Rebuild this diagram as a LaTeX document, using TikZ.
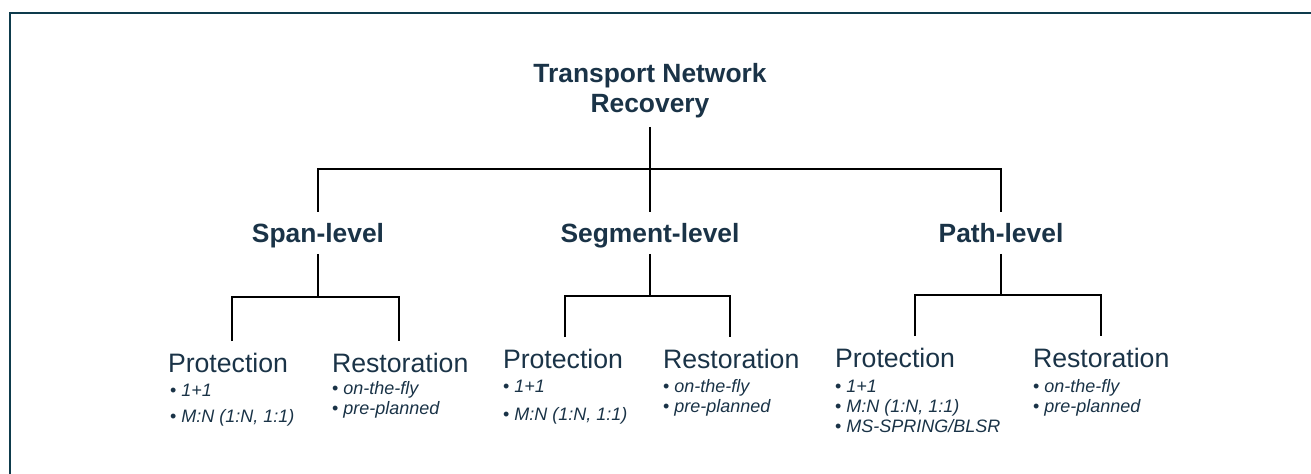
\documentclass[tikz,border=0pt]{standalone}
\usepackage{fontspec}
\setmainfont{Liberation Sans}
\definecolor{txt}{HTML}{1A3347}
\definecolor{frame}{HTML}{0E3B4C}
\begin{document}
\begin{tikzpicture}[x=0.75pt,y=-0.75pt,
  every node/.style={inner sep=0pt,outer sep=0pt,text=txt},
  titlebox/.style={font=\fontsize{19.8}{22.5}\selectfont\bfseries,align=center},
  levelbox/.style={font=\fontsize{19.8}{22.5}\selectfont\bfseries,anchor=base,text height=23.25pt,text depth=8.25pt},
  headbox/.style={font=\fontsize{20}{24}\selectfont,anchor=base west,text height=23.25pt},
  itembox/.style={font=\fontsize{13.5}{16}\selectfont,anchor=base west},
  conn/.style={draw=black,line width=1.5pt},
  framel/.style={draw=frame,line width=1.5pt}]
\useasboundingbox (0,0) rectangle (1311,474);
\draw[framel] (10,474) -- (10,13) -- (1311,13);

% title and levels
\node[titlebox] (title) at (650,91) {Transport Network\\Recovery};
\coordinate (tt) at (650,127);
\node[levelbox] (span) at (318,243) {Span-level};
\node[levelbox] (seg) at (650,243) {Segment-level};
\node[levelbox] (path) at (1001,243) {Path-level};
\draw[conn] (tt) -- (seg.north);
\draw[conn] (span.north) -- ++(0,-43) -| (path.north);

% span column
\node[headbox] (spP) at (168,372) {Protection};
\node[headbox] (spR) at (332,372) {Restoration};
\node[itembox] (spP1) at (170,396) {• \textit{1+1}};
\node[itembox] (spP2) at (170,422) {• \textit{M:N (1:N, 1:1)}};
\node[itembox] (spR1) at (332,394) {• \textit{on-the-fly}};
\node[itembox] (spR2) at (332,414) {• \textit{pre-planned}};
\coordinate (a1) at (232,297); \coordinate (a2) at (399,297);
\draw[conn] (span.south) -- (span.south |- a1);
\draw[conn] (a1 |- spP.north) -- (a1) -- (a2) -- (a2 |- spR.north);

% segment column
\node[headbox] (sgP) at (503,368) {Protection};
\node[headbox] (sgR) at (663,368) {Restoration};
\node[itembox] (sgP1) at (503,392) {• \textit{1+1}};
\node[itembox] (sgP2) at (503,420) {• \textit{M:N (1:N, 1:1)}};
\node[itembox] (sgR1) at (663,392) {• \textit{on-the-fly}};
\node[itembox] (sgR2) at (663,412) {• \textit{pre-planned}};
\coordinate (b1) at (565,296); \coordinate (b2) at (730,296);
\draw[conn] (seg.south) -- (seg.south |- b1);
\draw[conn] (b1 |- sgP.north) -- (b1) -- (b2) -- (b2 |- sgR.north);

% path column
\node[headbox] (ptP) at (835,367) {Protection};
\node[headbox] (ptR) at (1033,367) {Restoration};
\node[itembox] (ptP1) at (835,392) {• \textit{1+1}};
\node[itembox] (ptP2) at (835,412) {• \textit{M:N (1:N, 1:1)}};
\node[itembox] (ptP3) at (835,432) {• \textit{MS-SPRING/BLSR}};
\node[itembox] (ptR1) at (1033,392) {• \textit{on-the-fly}};
\node[itembox] (ptR2) at (1033,412) {• \textit{pre-planned}};
\coordinate (c1) at (915,295); \coordinate (c2) at (1101,295);
\draw[conn] (path.south) -- (path.south |- c1);
\draw[conn] (c1 |- ptP.north) -- (c1) -- (c2) -- (c2 |- ptR.north);
\end{tikzpicture}
\end{document}
